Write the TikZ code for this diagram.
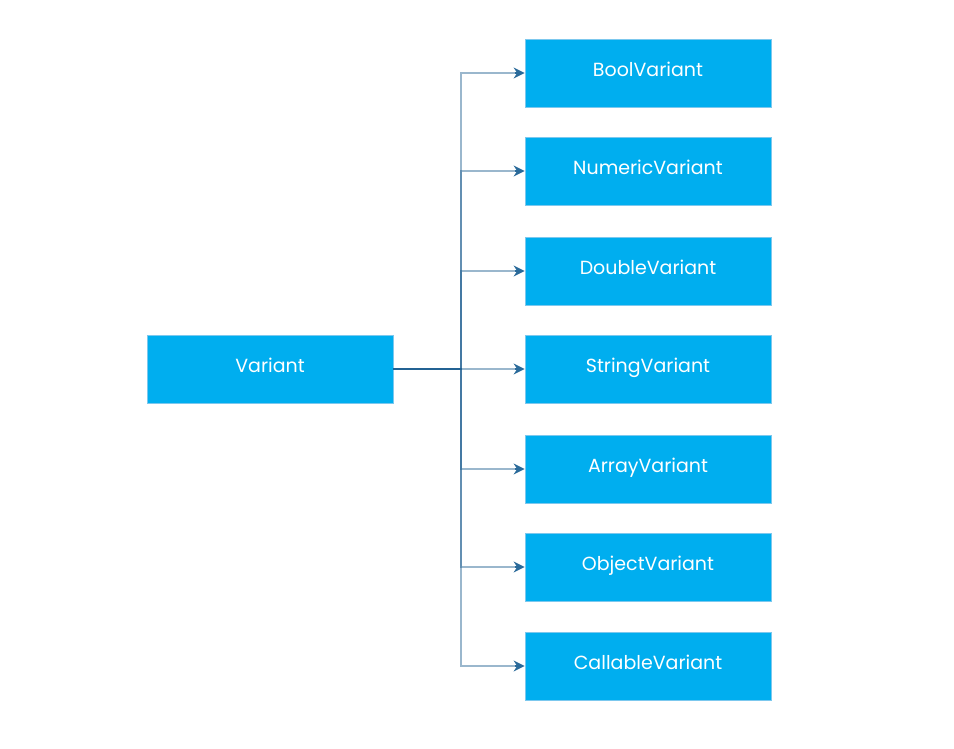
\documentclass[tikz,border=0pt]{standalone}
\usepackage{fontspec}
\setmainfont{Poppins}
\usetikzlibrary{arrows.meta,calc}
\definecolor{boxfill}{HTML}{00AEEF}
\definecolor{boxline}{HTML}{7CC8EE}
\definecolor{linecol}{HTML}{1F5F91}
\definecolor{tipcol}{HTML}{2A6A9A}
\tikzset{
  cls/.style={rectangle, fill=boxfill, draw=boxline, line width=0.8pt,
    minimum width=246pt, minimum height=68pt, inner sep=0pt,
    text height=14pt, text depth=8pt,
    text=white, font=\fontsize{19}{22}\selectfont},
  conn/.style={draw=linecol, draw opacity=0.45, line width=1.2pt},
  tipline/.style={tipcol, line width=1.2pt, -{Stealth[length=11pt,width=11pt]}}
}
\begin{document}
\begin{tikzpicture}[x=1pt,y=-1pt]
\useasboundingbox (0,0) rectangle (954,748);
\node[cls] (v) at (270,369) {Variant};
\node[cls] (b1) at (648,73) {BoolVariant};
\node[cls] (b2) at (648,171) {NumericVariant};
\node[cls] (b3) at (648,271) {DoubleVariant};
\node[cls] (b4) at (648,369) {StringVariant};
\node[cls] (b5) at (648,469) {ArrayVariant};
\node[cls] (b6) at (648,567) {ObjectVariant};
\node[cls] (b7) at (648,666) {CallableVariant};
\coordinate (j) at (461,369);
\foreach \b in {b1,b2,b3,b4,b5,b6,b7}{
  \draw[conn] (v.east) -- (j) |- ($(\b.west)+(-9,0)$);
  \draw[tipline] ($(\b.west)+(-10,0)$) -- (\b.west);
}
\end{tikzpicture}
\end{document}
